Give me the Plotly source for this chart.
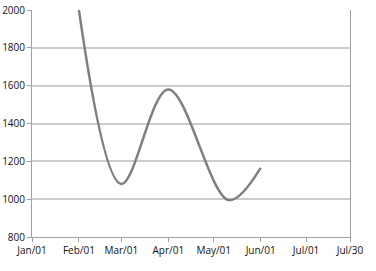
import plotly.graph_objects as go

dates = ["2021-02-01", "2021-03-01", "2021-04-01", "2021-05-11", "2021-06-01"]
values = [2000, 1080, 1580, 995, 1165]

tick_dates = ["2021-01-01", "2021-02-01", "2021-03-01", "2021-04-01", "2021-05-01",
              "2021-06-01", "2021-07-01", "2021-07-30"]
tick_labels = ["Jan/01", "Feb/01", "Mar/01", "Apr/01", "May/01", "Jun/01", "Jul/01", "Jul/30"]

fig = go.Figure(go.Scatter(
    x=dates, y=values, mode="lines",
    line=dict(shape="spline", smoothing=1.0, color="#7f7f7f", width=2.5),
    cliponaxis=True,
))

fig.update_layout(
    width=376, height=271,
    margin=dict(l=32, r=26, t=10, b=34),
    paper_bgcolor="white", plot_bgcolor="white",
    showlegend=False,
    font=dict(family="Open Sans, DejaVu Sans, sans-serif", size=10, color="#111111"),
)
fig.update_xaxes(
    type="date", range=["2021-01-01", "2021-07-30"],
    tickvals=tick_dates, ticktext=tick_labels,
    showgrid=False, zeroline=False, automargin=False,
    showline=True, linecolor="#a0a0a0", linewidth=1,
    ticks="outside", ticklen=4, tickcolor="#a0a0a0",
)
fig.update_yaxes(
    range=[800, 2000], dtick=200, tickformat="d",
    showgrid=True, gridcolor="#cccccc", gridwidth=1.5,
    zeroline=False, automargin=False,
    showline=True, linecolor="#a0a0a0", linewidth=1, mirror=True,
    ticks="outside", ticklen=4, tickcolor="#a0a0a0",
)

fig.write_html("out.html")
